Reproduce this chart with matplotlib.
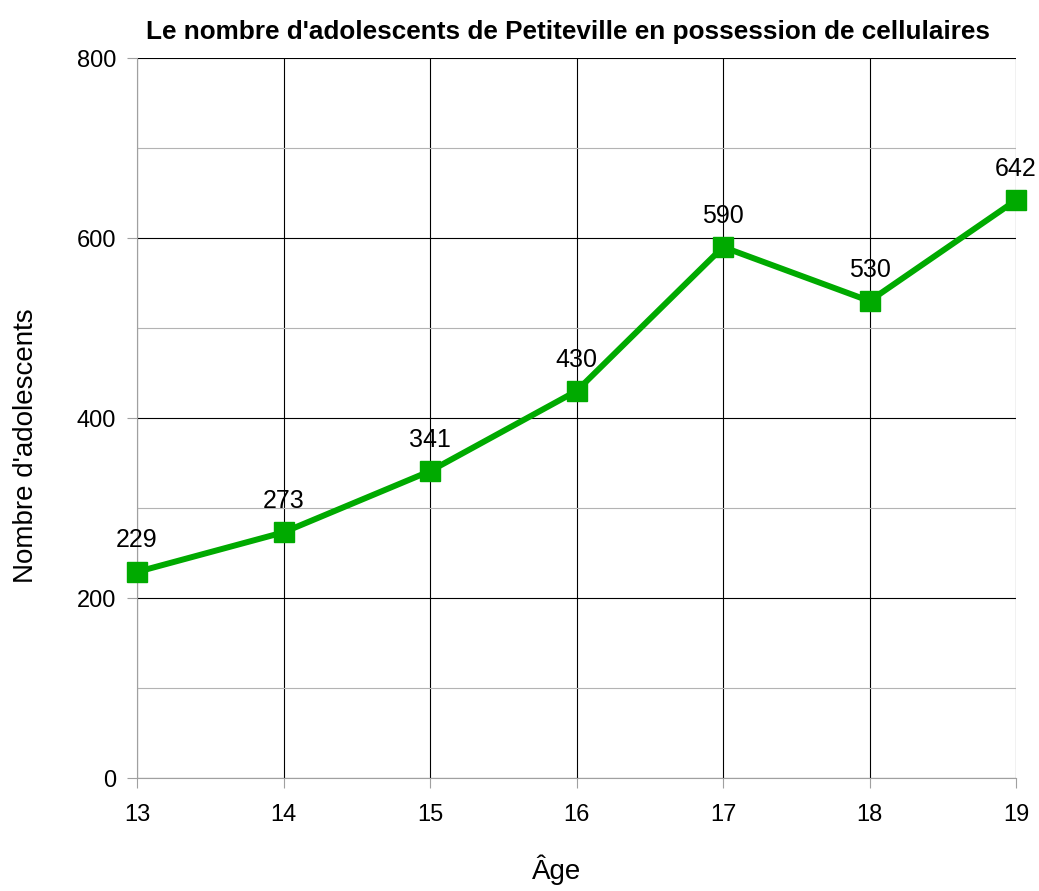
import matplotlib
matplotlib.use("Agg")
import matplotlib.pyplot as plt
from matplotlib.ticker import MultipleLocator

ages = [13, 14, 15, 16, 17, 18, 19]
counts = [229, 273, 341, 430, 590, 530, 642]

plt.rcParams['font.family'] = ['Liberation Sans', 'DejaVu Sans']

fig = plt.figure(figsize=(10.39, 8.91), dpi=100)
ax = fig.add_axes([0.1319, 0.1268, 0.8460, 0.8081])

ax.plot(ages, counts, color='#00aa00', linewidth=4.3, marker='s',
        markersize=14, zorder=3, clip_on=False)
for x, y in zip(ages, counts):
    ax.annotate(str(y), (x, y), xytext=(0, 14), textcoords='offset points',
                ha='center', va='bottom', fontsize=18)

ax.set_xlim(13, 19)
ax.set_ylim(0, 800)
ax.set_xticks(ages)
ax.yaxis.set_major_locator(MultipleLocator(200))
ax.yaxis.set_minor_locator(MultipleLocator(100))
ax.grid(True, which='major', color='#000000', linewidth=0.8)
ax.grid(True, which='minor', axis='y', color='#b3b3b3', linewidth=0.8)
ax.tick_params(which='both', length=7, color='#a0a0a0', labelsize=17, pad=8)
ax.tick_params(axis='x', pad=12)
ax.tick_params(which='minor', length=0)
for side in ['left', 'bottom']:
    ax.spines[side].set_color('#a0a0a0')
for side in ['top', 'right']:
    ax.spines[side].set_visible(False)

ax.set_title("Le nombre d'adolescents de Petiteville en possession de cellulaires",
             fontweight='bold', fontsize=18.8, x=0.49, pad=14)
ax.set_xlabel('Âge', fontsize=20)
ax.set_ylabel("Nombre d'adolescents", fontsize=20)
ax.xaxis.set_label_coords(0.477, -0.106)
ax.yaxis.set_label_coords(-0.112, 0.461)

fig.savefig('out.png', dpi=100)
